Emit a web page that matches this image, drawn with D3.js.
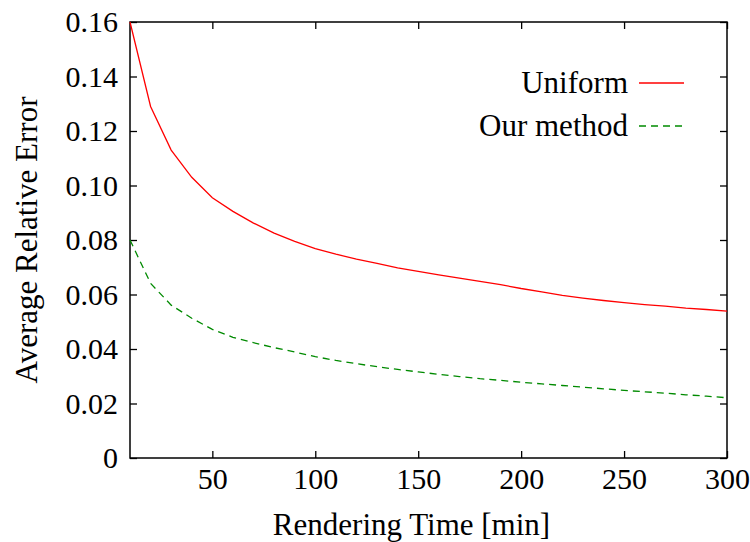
<!DOCTYPE html>
<html>
<head>
<meta charset="utf-8">
<script src="https://cdn.jsdelivr.net/npm/d3@7"></script>
<style>
  body { margin: 0; background: #fff; }
</style>
</head>
<body>
<div id="chart"></div>
<script>
// Data
const times = [10, 20, 30, 40, 50, 60, 70, 80, 90, 100, 110, 120, 130, 140, 150,
               160, 170, 180, 190, 200, 210, 220, 230, 240, 250, 260, 270, 280, 290, 300];
const uniform = [0.160, 0.129, 0.113, 0.103, 0.0955, 0.0905, 0.0862, 0.0825, 0.0795, 0.0768,
                 0.0748, 0.0730, 0.0714, 0.0698, 0.0685, 0.0672, 0.0660, 0.0648, 0.0636, 0.0622,
                 0.0610, 0.0597, 0.0587, 0.0578, 0.0570, 0.0563, 0.0557, 0.0550, 0.0545, 0.0539];
const ourMethod = [0.080, 0.0641, 0.0561, 0.0513, 0.0472, 0.0443, 0.0423, 0.0405, 0.0389, 0.0372,
                   0.0358, 0.0346, 0.0335, 0.0325, 0.0316, 0.0307, 0.0299, 0.0291, 0.0285, 0.0278,
                   0.0272, 0.0266, 0.0260, 0.0254, 0.0248, 0.0243, 0.0238, 0.0232, 0.0227, 0.0221];
const xTicks = [50, 100, 150, 200, 250, 300];
const yTicks = [0, 0.02, 0.04, 0.06, 0.08, 0.10, 0.12, 0.14, 0.16];
const seriesNames = ["Uniform", "Our method"];

const W = 750, H = 542;
const margin = {top: 22, right: 23, bottom: 84, left: 130};
const width = W - margin.left - margin.right,
      height = H - margin.top - margin.bottom;
const FONT = "'Liberation Serif', 'Times New Roman', serif";
const tickFont = 30, labelFont = 31;
const tickLen = 7;

const svg = d3.select("#chart").append("svg")
    .attr("width", W)
    .attr("height", H);

const g = svg.append("g")
    .attr("transform", `translate(${margin.left},${margin.top})`);

// Scales
const x = d3.scaleLinear().domain([10, 300]).range([0, width]);
const y = d3.scaleLinear().domain([0, 0.16]).range([height, 0]);

// Bottom axis (labels) + mirrored top ticks
const xAxis = g.append("g")
    .attr("transform", `translate(0,${height})`)
    .call(d3.axisBottom(x).tickValues(xTicks).tickSizeInner(-tickLen).tickSizeOuter(0).tickPadding(10));
xAxis.select(".domain").remove();

g.append("g")
    .call(d3.axisTop(x).tickValues(xTicks).tickSizeInner(-tickLen).tickSizeOuter(0).tickFormat(""))
    .select(".domain").remove();

// Left axis + mirrored right ticks
const yAxis = g.append("g")
    .call(d3.axisLeft(y).tickValues(yTicks).tickSizeInner(-tickLen).tickSizeOuter(0).tickPadding(12)
        .tickFormat(d => d === 0 ? "0" : d3.format(".2f")(d)));
yAxis.select(".domain").remove();

g.append("g")
    .attr("transform", `translate(${width},0)`)
    .call(d3.axisRight(y).tickValues(yTicks).tickSizeInner(-tickLen).tickSizeOuter(0).tickFormat(""))
    .select(".domain").remove();

g.selectAll(".tick line").attr("stroke", "#000").attr("stroke-width", 1.3);
g.selectAll(".tick text")
    .style("font-family", FONT)
    .style("font-size", tickFont + "px")
    .style("fill", "#000");

// Frame
g.append("rect")
    .attr("width", width).attr("height", height)
    .attr("fill", "none").attr("stroke", "#000").attr("stroke-width", 1.5);

// Lines
const line = d3.line()
    .x((d, i) => x(times[i]))
    .y(d => y(d));

g.append("path")
    .datum(uniform)
    .attr("fill", "none")
    .attr("stroke", "#ff0000")
    .attr("stroke-width", 1.3)
    .attr("d", line);

g.append("path")
    .datum(ourMethod)
    .attr("fill", "none")
    .attr("stroke", "#008a00")
    .attr("stroke-width", 1.3)
    .attr("stroke-dasharray", "7,5")
    .attr("d", line);

// Legend
const legend = g.append("g").attr("transform", `translate(${width - 88},61)`);
const legendStyles = [{color: "#ff0000", dash: null}, {color: "#008a00", dash: "7,5"}];
seriesNames.forEach((name, i) => {
    const row = legend.append("g").attr("transform", `translate(0,${i * 43})`);
    row.append("text")
        .attr("class", "label")
        .attr("x", -11).attr("y", 10)
        .attr("text-anchor", "end")
        .text(name);
    row.append("line")
        .attr("x1", 0).attr("x2", 45)
        .attr("y1", 0).attr("y2", 0)
        .attr("stroke", legendStyles[i].color)
        .attr("stroke-width", 1.3)
        .attr("stroke-dasharray", legendStyles[i].dash);
});

// Axis labels
svg.append("text")
    .attr("class", "label")
    .attr("x", margin.left + width / 2 - 17)
    .attr("y", 535)
    .attr("text-anchor", "middle")
    .text("Rendering Time [min]");

svg.append("text")
    .attr("class", "label")
    .attr("transform", `translate(37,${margin.top + height / 2}) rotate(-90)`)
    .attr("text-anchor", "middle")
    .text("Average Relative Error");

svg.selectAll("text.label")
    .style("font-family", FONT)
    .style("font-size", labelFont + "px")
    .style("fill", "#000");
</script>
</body>
</html>
